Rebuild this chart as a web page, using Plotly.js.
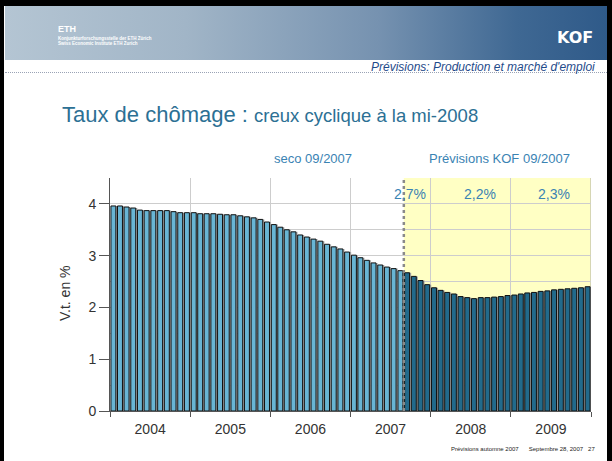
<!DOCTYPE html>
<html>
<head>
<meta charset="utf-8">
<script src="https://cdn.plot.ly/plotly-3.0.1.min.js"></script>
<style>
  html, body { margin: 0; padding: 0; background: #ffffff; }
  #wrap { position: relative; width: 612px; height: 461px; overflow: hidden; background: #ffffff; }
  #bTop { position: absolute; left: 0; top: 0; width: 612px; height: 6px; background: #000; }
  #bLeft { position: absolute; left: 0; top: 0; width: 4px; height: 461px; background: #000; }
  #bRight { position: absolute; right: 0; top: 0; width: 5px; height: 461px; background: #000; }
  #banner { position: absolute; left: 5px; top: 6px; width: 602px; height: 54px;
    background: linear-gradient(to right, #b4c5d3 0%, #a1b5c7 30%, #7692b0 62%, #3f6893 85%, #2f5a89 100%); }
  #dots { position: absolute; left: 5px; top: 72px; width: 602px; height: 0; border-top: 1px dotted #9aa3b5; }
  #chart { position: absolute; left: 0; top: 0; width: 612px; height: 461px; }
</style>
</head>
<body>
<div id="wrap">
  <div id="banner"></div>
  <div id="dots"></div>
  <div id="bTop"></div>
  <div id="bLeft"></div>
  <div id="bRight"></div>
  <div id="chart"></div>
</div>
<script>
// ---------- data ----------
var startYear = 2004;
var histValues = [
  3.96, 3.96, 3.94, 3.92, 3.88, 3.87, 3.87, 3.87, 3.87, 3.85, 3.83, 3.83,   // 2004
  3.83, 3.81, 3.81, 3.81, 3.80, 3.79, 3.79, 3.77, 3.75, 3.73, 3.70, 3.65,   // 2005
  3.60, 3.55, 3.50, 3.46, 3.40, 3.36, 3.32, 3.28, 3.22, 3.17, 3.13, 3.07,   // 2006
  3.01, 2.96, 2.91, 2.86, 2.82, 2.78, 2.75, 2.71                            // 2007 Jan-Aug
];
var forecastValues = [
  2.67, 2.60, 2.52, 2.44,                                                   // 2007 Sep-Dec
  2.38, 2.33, 2.29, 2.26, 2.21, 2.19, 2.17, 2.19, 2.19, 2.20, 2.21, 2.23,   // 2008
  2.24, 2.26, 2.28, 2.29, 2.31, 2.32, 2.34, 2.35, 2.36, 2.37, 2.38, 2.40    // 2009
];
var yearLabels = ['2004', '2005', '2006', '2007', '2008', '2009'];
var annualLabels = ['2,7%', '2,2%', '2,3%'];
var sourceLabels = ['seco 09/2007', 'Prévisions KOF 09/2007'];

// ---------- month categories ----------
function monthStr(i) {
  var y = startYear + Math.floor(i / 12);
  var m = (i % 12) + 1;
  return y + '-' + (m < 10 ? '0' + m : m) + '-01';
}
var histX = histValues.map(function (v, i) { return monthStr(i); });
var fcX = forecastValues.map(function (v, i) { return monthStr(i + histValues.length); });
var allX = histX.concat(fcX);
var allY = histValues.concat(forecastValues);
var forecastStart = fcX[0];

// ---------- geometry helpers (plot area in px) ----------
var L = 110, R = 591, T = 178, B = 411;
function px(x) { return (x - L) / (R - L); }
function py(y) { return (B - y) / (B - T); }

var rangeStart = '2004-01-01', rangeEnd = '2010-01-01';
var spanMs = Date.parse(rangeEnd) - Date.parse(rangeStart);
var monthMs = spanMs / 72;
var barW = monthMs * 0.74;
var shadowShift = spanMs * 1.6 / (R - L);

var font = 'Arial, "Liberation Sans", Helvetica, sans-serif';

var traces = [
  { type: 'bar', x: allX, y: allY, xperiod: 'M1', xperiodalignment: 'middle',
    width: barW, offset: -barW / 2 + shadowShift,
    marker: { color: '#a8a8a8', line: { width: 0 } }, hoverinfo: 'skip', showlegend: false },
  { type: 'bar', x: histX, y: histValues, xperiod: 'M1', xperiodalignment: 'middle',
    width: barW, offset: -barW / 2,
    marker: { color: '#68b5d4', line: { color: '#111111', width: 1 } }, showlegend: false },
  { type: 'bar', x: fcX, y: forecastValues, xperiod: 'M1', xperiodalignment: 'middle',
    width: barW, offset: -barW / 2,
    marker: { color: '#226a8b', line: { color: '#111111', width: 1 } }, showlegend: false }
];

var annColor = '#3a83b3';
var annotations = [
  // chart title
  { xref: 'paper', yref: 'paper', x: px(60), y: py(114), xanchor: 'left', yanchor: 'middle', showarrow: false,
    text: '<span style="font-size:22px">Taux de chômage :</span> <span style="font-size:18.5px">creux cyclique à la mi-2008</span>',
    font: { family: font, size: 22, color: '#2c7094' } },
  // header subtitle
  { xref: 'paper', yref: 'paper', x: px(597), y: py(67), xanchor: 'right', yanchor: 'middle', showarrow: false,
    text: '<i>Prévisions: Production et marché d\'emploi</i>', font: { family: font, size: 12, color: '#1f4b8a' } },
  // KOF logo
  { xref: 'paper', yref: 'paper', x: px(595), y: py(37), xanchor: 'right', yanchor: 'middle', showarrow: false,
    text: '<b>KOF</b>', font: { family: 'DejaVu Sans, Arial, sans-serif', size: 16, color: '#ffffff' } },
  // left logo
  { xref: 'paper', yref: 'paper', x: px(56), y: py(29), xanchor: 'left', yanchor: 'middle', showarrow: false,
    text: '<b>ETH</b>', font: { family: font, size: 9, color: '#ffffff' } },
  { xref: 'paper', yref: 'paper', x: px(56), y: py(38), xanchor: 'left', yanchor: 'middle', showarrow: false,
    text: '<b>Konjunkturforschungsstelle der ETH Zürich</b>', font: { family: font, size: 4.5, color: '#ffffff' } },
  { xref: 'paper', yref: 'paper', x: px(56), y: py(43), xanchor: 'left', yanchor: 'middle', showarrow: false,
    text: '<b>Swiss Economic Institute ETH Zurich</b>', font: { family: font, size: 4.5, color: '#ffffff' } },
  // y-axis title
  { xref: 'paper', yref: 'paper', x: px(65), y: py(293), xanchor: 'center', yanchor: 'middle', showarrow: false,
    textangle: -90, text: 'V.t. en %', font: { family: font, size: 14, color: '#333333' } },
  // source labels
  { xref: 'paper', yref: 'paper', x: px(313), y: py(159), xanchor: 'center', yanchor: 'middle', showarrow: false,
    text: sourceLabels[0], font: { family: font, size: 13, color: annColor } },
  { xref: 'paper', yref: 'paper', x: px(499), y: py(159), xanchor: 'center', yanchor: 'middle', showarrow: false,
    text: sourceLabels[1], font: { family: font, size: 13, color: annColor } },
  // annual averages
  { xref: 'x', yref: 'paper', x: '2007-09-28', y: py(194), xanchor: 'center', yanchor: 'middle', showarrow: false,
    text: annualLabels[0], font: { family: font, size: 14, color: annColor } },
  { xref: 'x', yref: 'paper', x: '2008-08-14', y: py(194), xanchor: 'center', yanchor: 'middle', showarrow: false,
    text: annualLabels[1], font: { family: font, size: 14, color: annColor } },
  { xref: 'x', yref: 'paper', x: '2009-07-15', y: py(194), xanchor: 'center', yanchor: 'middle', showarrow: false,
    text: annualLabels[2], font: { family: font, size: 14, color: annColor } },
  // footer
  { xref: 'paper', yref: 'paper', x: px(597), y: py(449), xanchor: 'right', yanchor: 'middle', showarrow: false,
    text: 'Prévisions automne 2007&nbsp;&nbsp;&nbsp;&nbsp;&nbsp;&nbsp;Septembre 28, 2007&nbsp;&nbsp;&nbsp;27',
    font: { family: font, size: 6, color: '#222222' } }
];

var shapes = [
  { type: 'rect', xref: 'x', yref: 'paper', x0: forecastStart, x1: rangeEnd, y0: 0, y1: 1,
    fillcolor: '#ffffc4', line: { width: 0 }, layer: 'below' },
  { type: 'line', xref: 'x', yref: 'paper', x0: rangeEnd, x1: rangeEnd, y0: 0, y1: 1,
    line: { color: '#d6d6b4', width: 2 }, layer: 'below' },
  { type: 'line', xref: 'x', yref: 'paper', x0: forecastStart, x1: forecastStart, y0: 0, y1: 1,
    line: { color: '#8a8a8a', width: 2.5, dash: 'dot' }, layer: 'above' }
];

var layout = {
  width: 612, height: 461,
  margin: { l: L, r: 612 - R, t: T, b: 461 - B, pad: 0 },
  paper_bgcolor: 'rgba(0,0,0,0)',
  plot_bgcolor: 'rgba(0,0,0,0)',
  barmode: 'overlay',
  showlegend: false,
  font: { family: font, size: 13, color: '#333333' },
  xaxis: {
    type: 'date', range: [rangeStart, rangeEnd], fixedrange: true,
    tick0: rangeStart, dtick: 'M12', tickformat: '%Y', ticklabelmode: 'period',
    ticks: 'outside', ticklen: 5, tickcolor: '#555555',
    showgrid: true, gridcolor: '#cdcdcd', gridwidth: 1,
    showline: true, linecolor: '#555555', linewidth: 1,
    tickfont: { family: font, size: 14, color: '#333333' }, zeroline: false
  },
  yaxis: {
    range: [0, 4.5], dtick: 1, tick0: 0, fixedrange: true,
    ticks: 'outside', ticklen: 10, tickcolor: '#555555',
    showgrid: true, gridcolor: '#cdcdcd', gridwidth: 1,
    minor: { dtick: 0.5, showgrid: true, gridcolor: '#cdcdcd', ticks: '' },
    showline: true, linecolor: '#555555', linewidth: 1, zeroline: false,
    tickfont: { family: font, size: 14, color: '#333333' }
  },
  annotations: annotations,
  shapes: shapes
};

Plotly.newPlot('chart', traces, layout, { staticPlot: true, displayModeBar: false });
</script>
</body>
</html>
